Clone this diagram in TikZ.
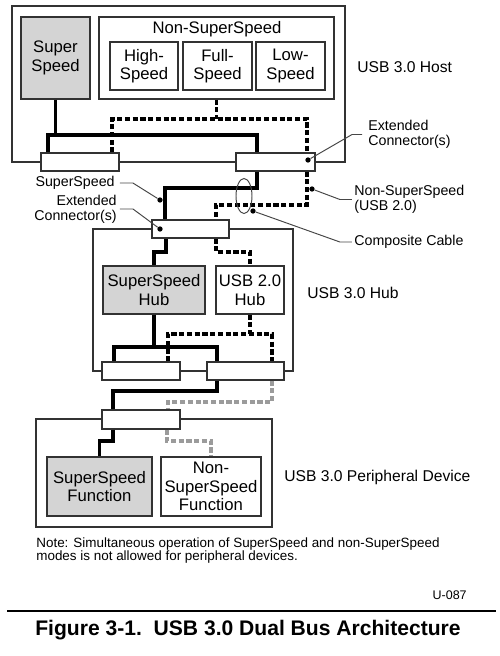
\documentclass[tikz,border=0pt]{standalone}
\usepackage{fontspec}
\setmainfont{Liberation Sans}
\usetikzlibrary{shapes.geometric}

\definecolor{boxgray}{RGB}{212,212,212}
\definecolor{busgray}{RGB}{155,155,155}
\definecolor{leadgray}{RGB}{70,70,70}
\definecolor{framegray}{RGB}{50,50,50}

\tikzset{
  sz/.style 2 args={minimum width=#1*0.02cm, minimum height=#2*0.02cm},
  frame/.style={draw=framegray, line width=0.65pt, inner sep=0pt},
  blk/.style={frame, fill=white, align=center,
    font=\fontsize{9.5}{10.6}\selectfont},
  ssblk/.style={blk, fill=boxgray},
  conn/.style={frame, fill=white},
  ssbus/.style={line width=1.95pt, line join=miter},
  hsbus/.style={line width=1.95pt, dash pattern=on 2.9pt off 1.5pt},
  graybus/.style={hsbus, draw=busgray},
  lead/.style={draw=leadgray, line width=0.55pt},
  leaddot/.style={circle, fill=black, inner sep=0pt, minimum size=3pt},
  tag/.style={inner sep=0pt, font=\fontsize{8.9}{10}\selectfont},
  ptr/.style={inner sep=0pt, font=\fontsize{8.1}{8.6}\selectfont}
}

\begin{document}
\begin{tikzpicture}[x=0.02cm,y=-0.02cm]
  \useasboundingbox (0,0) rectangle (500,656);

  % frames
  \node[frame, sz={333}{156}] (host) at (178.5,84) {};
  \node[frame, sz={200}{142}] (hub) at (193,300) {};
  \node[frame, sz={236}{108}] (dev) at (154,473) {};

  % host
  \node[ssblk, sz={69}{82}] (hss) at (55.5,58) {Super\\Speed};
  \node[blk, sz={235}{82}] (hnss) at (216.5,58) {};
  \node[inner sep=0pt, font=\fontsize{9.5}{10.6}\selectfont] (hnsst) at (217,29) {Non-SuperSpeed};
  \node[blk, sz={68}{48}] (hhs) at (144,66) {High-\\Speed};
  \node[blk, sz={69}{48}] (hfs) at (217.5,66) {Full-\\Speed};
  \node[blk, sz={69}{48}] (hls) at (290.5,66) {Low-\\Speed};
  \node[conn, sz={78}{18}] (hcl) at (80,162) {};
  \node[conn, sz={79}{18}] (hcr) at (275.5,162) {};
  \node[tag, anchor=west] (hostlbl) at (357,67) {USB 3.0 Host};

  % hub
  \node[conn, sz={77}{18}] (xu) at (190.5,229) {};
  \node[ssblk, sz={102}{48}] (ssh) at (154,290) {SuperSpeed\\Hub};
  \node[blk, sz={68}{48}] (u2h) at (250,290) {USB 2.0\\Hub};
  \node[conn, sz={78}{18}] (xdl) at (141,371) {};
  \node[conn, sz={77}{18}] (xdr) at (245.5,371) {};
  \node[tag, anchor=west] (hublbl) at (307,293) {USB 3.0 Hub};

  % device
  \node[conn, sz={78}{19}] (xdev) at (141,419.5) {};
  \node[ssblk, sz={105}{59}] (ssf) at (99.5,486.5) {SuperSpeed\\Function};
  \node[blk, sz={100}{59}] (nssf) at (211,486.5) {Non-\\SuperSpeed\\Function};
  \node[tag, anchor=west] (devlbl) at (284,477) {USB 3.0 Peripheral Device};

  % host buses
  \coordinate (hb1) at (48,135);
  \coordinate (hb2) at (257,135);
  \draw[ssbus] (hss.south) -- (hss.south |- hb1);
  \draw[ssbus] (hb1 |- hcl.north) -- (hb1) -- (hb2) -- (hb2 |- hcr.north);
  \coordinate (hd1) at (112,119);
  \coordinate (hd2) at (307,119);
  \draw[hsbus] (hnss.south) -- (hnss.south |- hd1);
  \draw[hsbus] (hd1 |- hcl.north) -- (hd1) -- (hd2) -- (hd2 |- hcr.north);

  % cable host - hub
  \coordinate (c1) at (257,188);
  \coordinate (c2) at (165,188);
  \draw[ssbus] (c1 |- hcr.south) -- (c1) -- (c2) -- (c2 |- xu.north);
  \coordinate (c3) at (307,205);
  \coordinate (c4) at (216,205);
  \draw[hsbus] (c3 |- hcr.south) -- (c3) -- (c4) -- (c4 |- xu.north);

  % hub buses
  \coordinate (u1) at (166,252);
  \coordinate (u2) at (154,252);
  \draw[ssbus] (u1 |- xu.south) -- (u1) -- (u2) -- (ssh.north);
  \coordinate (u3) at (216,252);
  \coordinate (u4) at (250,252);
  \draw[hsbus] (u3 |- xu.south) -- (u3) -- (u4) -- (u2h.north);
  \coordinate (u5) at (114,347);
  \coordinate (u6) at (217,347);
  \draw[ssbus] (ssh.south) -- (ssh.south |- u5);
  \draw[ssbus] (u5 |- xdl.north) -- (u5) -- (u6) -- (u6 |- xdr.north);
  \coordinate (u7) at (168,334);
  \coordinate (u8) at (272,334);
  \draw[hsbus] (u2h.south) -- (u2h.south |- u7);
  \draw[hsbus] (u7 |- xdl.north) -- (u7) -- (u8) -- (u8 |- xdr.north);

  % cable hub - device
  \coordinate (c5) at (217,391);
  \coordinate (c6) at (113,391);
  \draw[ssbus] (c5 |- xdr.south) -- (c5) -- (c6) -- (c6 |- xdev.north);
  \coordinate (c7) at (272,402);
  \coordinate (c8) at (168,402);
  \draw[graybus] (c7 |- xdr.south) -- (c7) -- (c8) -- (c8 |- xdev.north);

  % device buses
  \coordinate (f1) at (113,441);
  \coordinate (f2) at (99.5,441);
  \draw[ssbus] (f1 |- xdev.south) -- (f1) -- (f2) -- (ssf.north);
  \coordinate (f3) at (167,441);
  \coordinate (f4) at (211,441);
  \draw[graybus] (f3 |- xdev.south) -- (f3) -- (f4) -- (nssf.north);

  % cable ellipse
  \node[ellipse, lead, inner sep=0pt, sz={16}{35}] (cab) at (244,196) {};

  % pointer labels
  \node[leaddot] (d1) at (308,160) {};
  \node[ptr, anchor=west, align=left] (extR) at (368,134.5) {Extended\\Connector(s)};
  \draw[lead] ([xshift=-3.4pt]extR.west) -- ++(-10,0) -- (d1);

  \node[leaddot] (d2) at (312,189) {};
  \node[ptr, anchor=west, align=left] (nssR) at (354,199.5) {Non-SuperSpeed\\(USB 2.0)};
  \draw[lead] ([xshift=-1.2pt]nssR.west) -- ++(-12,0) -- (d2);

  \node[leaddot] (d3) at (253,211) {};
  \node[ptr, anchor=west] (cabR) at (354,242) {Composite Cable};
  \draw[lead] ([xshift=-1.2pt]cabR.west) -- ++(-12,0) -- (d3);

  \node[leaddot] (d4) at (160,200) {};
  \node[ptr, anchor=east] (ssL) at (115,183) {SuperSpeed};
  \draw[lead] ([xshift=2.8pt]ssL.east) -- ++(13,0) -- (d4);

  \node[leaddot] (d5) at (160,229) {};
  \node[ptr, anchor=east, align=right] (extL) at (117,209) {Extended\\Connector(s)};
  \draw[lead] ([xshift=1.7pt]extL.east) -- ++(13,0) -- (d5);

  % note, id, caption
  \node[inner sep=0pt, anchor=west, align=left, font=\fontsize{7.65}{7.5}\selectfont] (note) at (36,550.5)
    {Note: Simultaneous operation of SuperSpeed and non-SuperSpeed\\modes is not allowed for peripheral devices.};
  \node[inner sep=0pt, anchor=east, font=\fontsize{7.1}{8}\selectfont] (fid) at (467,595) {U-087};
  \draw[line width=1.2pt] (7,611) -- (496,611);
  \node[inner sep=0pt, anchor=west, font=\fontsize{12}{14}\selectfont\bfseries] (cap) at (35,630)
    {Figure 3-1.\ \ USB 3.0 Dual Bus Architecture};
\end{tikzpicture}
\end{document}
